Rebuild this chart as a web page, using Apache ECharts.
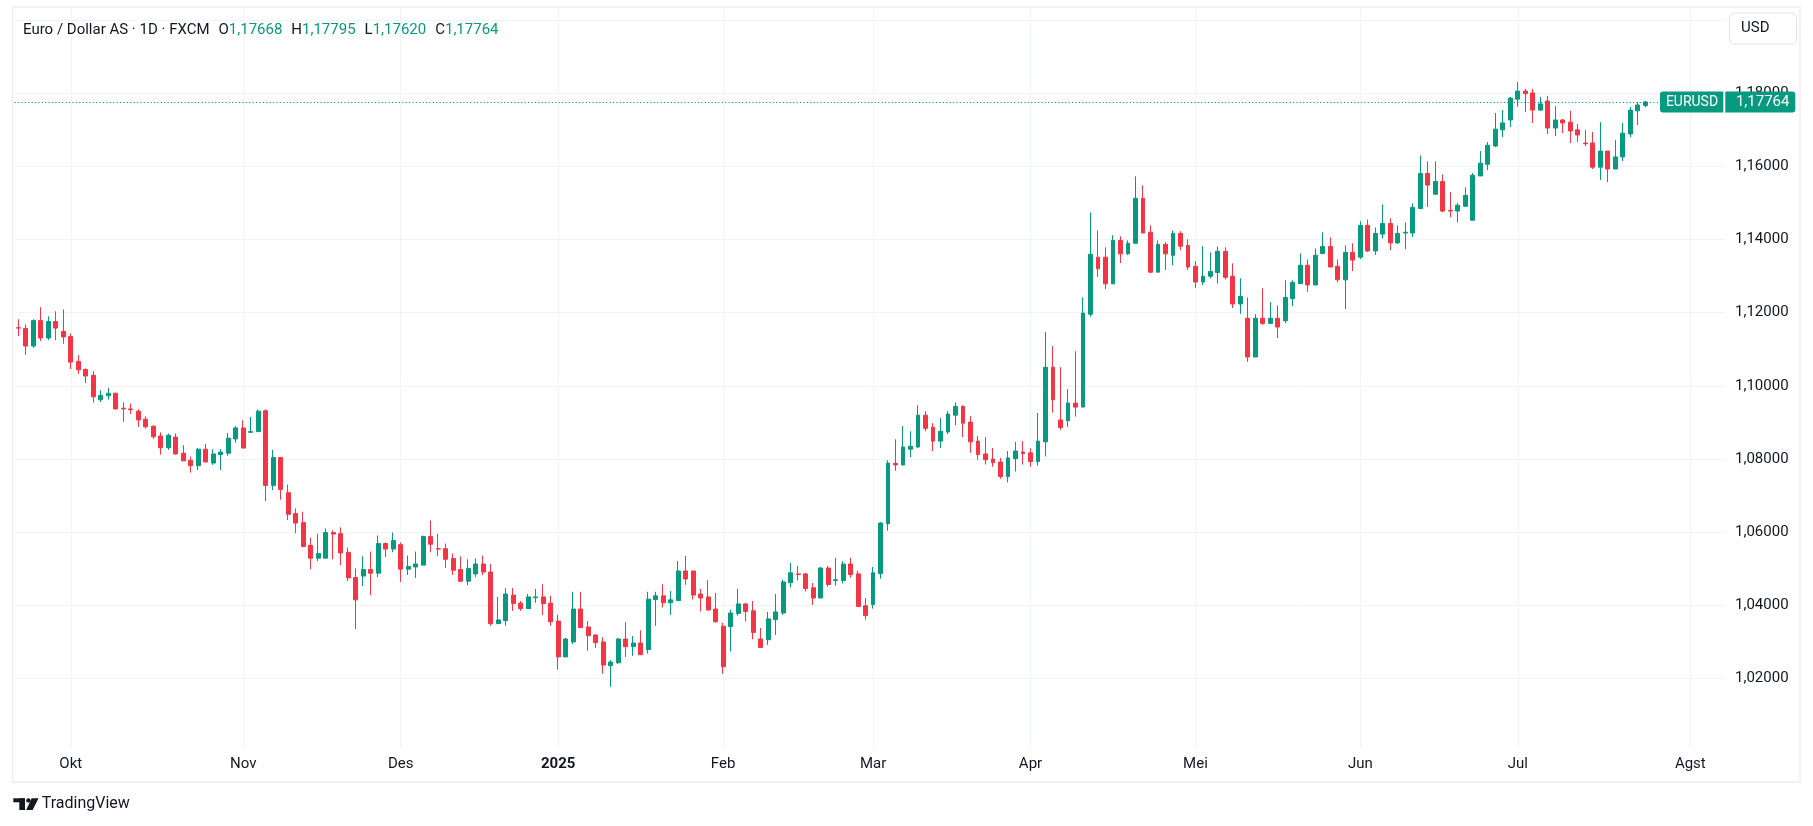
<!DOCTYPE html>
<html>
<head>
<meta charset="utf-8">
<title>EURUSD 1D</title>
<script src="https://cdn.jsdelivr.net/npm/echarts@6/dist/echarts.min.js"></script>
<style>
  html, body { margin: 0; padding: 0; background: #fff; }
  #chart { width: 1813px; height: 826px; }
</style>
</head>
<body>
<div id="chart"></div>
<script>
// daily candles, 20 Sep 2024 .. 24 Jul 2025
const opens = [
  1.1159,1.1157,1.1109,1.1179,1.1131,1.1176,1.1149,1.1135,1.1067,1.1045,
  1.1029,1.0962,1.0973,1.0980,1.0939,1.0937,1.0931,1.0909,1.0890,1.0863,
  1.0831,1.0860,1.0816,1.0797,1.0782,1.0827,1.0789,1.0812,1.0816,1.0855,
  1.0885,1.0873,1.0875,1.0932,1.0728,1.0804,1.0708,1.0651,1.0626,1.0564,
  1.0529,1.0529,1.0599,1.0596,1.0545,1.0476,1.0480,1.0498,1.0488,1.0569,
  1.0554,1.0566,1.0499,1.0505,1.0510,1.0588,1.0555,1.0555,1.0528,1.0498,
  1.0466,1.0486,1.0513,1.0491,1.0350,1.0358,1.0428,1.0406,1.0391,1.0421,
  1.0423,1.0406,1.0357,1.0259,1.0300,1.0390,1.0341,1.0319,1.0300,1.0235,
  1.0243,1.0308,1.0287,1.0297,1.0279,1.0416,1.0426,1.0407,1.0413,1.0494,
  1.0494,1.0431,1.0423,1.0390,1.0343,1.0342,1.0378,1.0404,1.0385,1.0308,
  1.0306,1.0361,1.0379,1.0462,1.0486,1.0486,1.0448,1.0420,1.0502,1.0468,
  1.0468,1.0513,1.0486,1.0399,1.0402,1.0487,1.0623,1.0788,1.0784,1.0827,
  1.0833,1.0920,1.0887,1.0849,1.0874,1.0920,1.0944,1.0901,1.0849,1.0814,
  1.0800,1.0792,1.0752,1.0801,1.0819,1.0817,1.0793,1.0847,1.1051,1.0907,
  1.0905,1.0953,1.0942,1.1196,1.1352,1.1352,1.1279,1.1398,1.1361,1.1390,
  1.1513,1.1420,1.1311,1.1387,1.1357,1.1417,1.1384,1.1327,1.1284,1.1300,
  1.1310,1.1368,1.1300,1.1224,1.1185,1.1079,1.1185,1.1171,1.1185,1.1178,
  1.1239,1.1280,1.1330,1.1276,1.1362,1.1381,1.1327,1.1290,1.1365,1.1352,
  1.1439,1.1369,1.1415,1.1444,1.1391,1.1418,1.1418,1.1485,1.1581,1.1524,
  1.1559,1.1480,1.1478,1.1491,1.1453,1.1574,1.1606,1.1656,1.1700,1.1727,
  1.1784,1.1806,1.1801,1.1754,1.1779,1.1705,1.1727,1.1721,1.1700,1.1664,
  1.1664,1.1598,1.1642,1.1593,1.1626,1.1689,1.1752,1.17668
];
const highs = [
  1.1182,1.1168,1.1182,1.1215,1.1190,1.1204,1.1209,1.1143,1.1084,1.1048,
  1.1040,1.0988,1.0995,1.0981,1.0955,1.0952,1.0936,1.0917,1.0891,1.0873,
  1.0870,1.0870,1.0838,1.0807,1.0830,1.0841,1.0827,1.0827,1.0871,1.0890,
  1.0906,1.0915,1.0936,1.0936,1.0825,1.0806,1.0730,1.0665,1.0656,1.0585,
  1.0596,1.0610,1.0605,1.0613,1.0558,1.0501,1.0534,1.0547,1.0591,1.0572,
  1.0599,1.0572,1.0536,1.0547,1.0591,1.0632,1.0596,1.0569,1.0542,1.0534,
  1.0526,1.0528,1.0536,1.0513,1.0423,1.0447,1.0447,1.0412,1.0431,1.0445,
  1.0458,1.0426,1.0374,1.0311,1.0437,1.0437,1.0357,1.0321,1.0313,1.0250,
  1.0311,1.0354,1.0316,1.0332,1.0437,1.0437,1.0458,1.0439,1.0521,1.0535,
  1.0494,1.0445,1.0469,1.0434,1.0352,1.0388,1.0445,1.0407,1.0412,1.0338,
  1.0382,1.0431,1.0470,1.0516,1.0508,1.0489,1.0461,1.0505,1.0508,1.0530,
  1.0521,1.0530,1.0494,1.0420,1.0505,1.0628,1.0797,1.0854,1.0890,1.0876,
  1.0947,1.0931,1.0898,1.0912,1.0931,1.0955,1.0947,1.0918,1.0863,1.0860,
  1.0830,1.0803,1.0822,1.0847,1.0849,1.0830,1.0926,1.1147,1.1109,1.1051,
  1.0991,1.1095,1.1242,1.1474,1.1425,1.1379,1.1412,1.1409,1.1398,1.1573,
  1.1548,1.1439,1.1398,1.1393,1.1425,1.1423,1.1401,1.1341,1.1382,1.1365,
  1.1381,1.1379,1.1335,1.1294,1.1242,1.1196,1.1267,1.1229,1.1220,1.1289,
  1.1289,1.1362,1.1346,1.1376,1.1420,1.1406,1.1346,1.1384,1.1390,1.1450,
  1.1455,1.1433,1.1496,1.1458,1.1439,1.1447,1.1499,1.1630,1.1614,1.1614,
  1.1578,1.1530,1.1500,1.1543,1.1582,1.1642,1.1667,1.1746,1.1754,1.1790,
  1.1831,1.1812,1.1812,1.1790,1.1793,1.1765,1.1730,1.1752,1.1716,1.1700,
  1.1694,1.1721,1.1642,1.1672,1.1719,1.1763,1.1776,1.17795
];
const lows = [
  1.1136,1.1085,1.1104,1.1123,1.1125,1.1125,1.1115,1.1046,1.1033,1.1008,
  1.0954,1.0956,1.0963,1.0936,1.0902,1.0923,1.0888,1.0883,1.0855,1.0812,
  1.0825,1.0812,1.0795,1.0763,1.0770,1.0792,1.0784,1.0770,1.0809,1.0845,
  1.0830,1.0873,1.0875,1.0685,1.0715,1.0689,1.0633,1.0597,1.0559,1.0499,
  1.0521,1.0529,1.0526,1.0510,1.0466,1.0335,1.0453,1.0428,1.0477,1.0532,
  1.0545,1.0464,1.0483,1.0475,1.0510,1.0545,1.0535,1.0502,1.0483,1.0466,
  1.0455,1.0477,1.0483,1.0344,1.0350,1.0344,1.0385,1.0385,1.0391,1.0407,
  1.0374,1.0344,1.0224,1.0259,1.0294,1.0339,1.0276,1.0284,1.0213,1.0177,
  1.0240,1.0259,1.0262,1.0265,1.0268,1.0344,1.0394,1.0374,1.0413,1.0456,
  1.0416,1.0383,1.0387,1.0353,1.0213,1.0274,1.0372,1.0356,1.0307,1.0285,
  1.0292,1.0319,1.0374,1.0449,1.0468,1.0438,1.0401,1.0420,1.0451,1.0454,
  1.0460,1.0476,1.0397,1.0361,1.0391,1.0473,1.0604,1.0768,1.0782,1.0805,
  1.0830,1.0876,1.0822,1.0830,1.0868,1.0893,1.0860,1.0817,1.0798,1.0785,
  1.0779,1.0746,1.0736,1.0766,1.0785,1.0779,1.0782,1.0807,1.0927,1.0880,
  1.0888,1.0916,1.0942,1.1189,1.1298,1.1265,1.1279,1.1336,1.1358,1.1390,
  1.1418,1.1308,1.1311,1.1317,1.1330,1.1371,1.1317,1.1268,1.1276,1.1294,
  1.1280,1.1291,1.1213,1.1197,1.1066,1.1079,1.1167,1.1169,1.1131,1.1172,
  1.1218,1.1278,1.1257,1.1276,1.1360,1.1325,1.1283,1.1210,1.1314,1.1347,
  1.1366,1.1358,1.1403,1.1371,1.1388,1.1374,1.1407,1.1483,1.1489,1.1524,
  1.1475,1.1461,1.1447,1.1491,1.1453,1.1574,1.1590,1.1653,1.1680,1.1708,
  1.1763,1.1749,1.1719,1.1752,1.1689,1.1683,1.1691,1.1664,1.1667,1.1656,
  1.1593,1.1563,1.1557,1.1593,1.1615,1.1680,1.1713,1.17620
];
const closes = [
  1.1158,1.1109,1.1179,1.1131,1.1176,1.1158,1.1134,1.1065,1.1044,1.1027,
  1.0970,1.0974,1.0980,1.0937,1.0937,1.0935,1.0907,1.0888,1.0861,1.0831,
  1.0865,1.0814,1.0795,1.0782,1.0827,1.0792,1.0814,1.0819,1.0857,1.0885,
  1.0830,1.0875,1.0931,1.0728,1.0804,1.0717,1.0649,1.0625,1.0561,1.0529,
  1.0542,1.0599,1.0595,1.0543,1.0475,1.0415,1.0498,1.0488,1.0569,1.0554,
  1.0577,1.0499,1.0506,1.0513,1.0588,1.0567,1.0554,1.0526,1.0496,1.0466,
  1.0501,1.0513,1.0491,1.0350,1.0360,1.0431,1.0405,1.0391,1.0423,1.0423,
  1.0405,1.0355,1.0259,1.0308,1.0390,1.0339,1.0317,1.0298,1.0237,1.0245,
  1.0308,1.0287,1.0297,1.0265,1.0417,1.0426,1.0407,1.0415,1.0494,1.0472,
  1.0428,1.0420,1.0387,1.0355,1.0232,1.0379,1.0404,1.0383,1.0326,1.0285,
  1.0363,1.0382,1.0464,1.0489,1.0484,1.0446,1.0420,1.0502,1.0457,1.0470,
  1.0513,1.0484,1.0397,1.0372,1.0489,1.0625,1.0789,1.0784,1.0833,1.0835,
  1.0920,1.0884,1.0849,1.0876,1.0923,1.0944,1.0898,1.0847,1.0812,1.0798,
  1.0790,1.0752,1.0803,1.0822,1.0815,1.0793,1.0849,1.1051,1.0962,1.0886,
  1.0953,1.0942,1.1199,1.1360,1.1320,1.1279,1.1398,1.1361,1.1390,1.1513,
  1.1418,1.1311,1.1387,1.1361,1.1417,1.1382,1.1325,1.1284,1.1300,1.1313,
  1.1368,1.1297,1.1224,1.1245,1.1079,1.1185,1.1171,1.1185,1.1161,1.1242,
  1.1283,1.1330,1.1276,1.1357,1.1381,1.1325,1.1290,1.1365,1.1344,1.1439,
  1.1369,1.1417,1.1444,1.1391,1.1417,1.1420,1.1488,1.1581,1.1549,1.1559,
  1.1478,1.1478,1.1494,1.1521,1.1576,1.1609,1.1658,1.1702,1.1719,1.1787,
  1.1806,1.1799,1.1754,1.1771,1.1705,1.1727,1.1719,1.1697,1.1686,1.1662,
  1.1598,1.1642,1.1593,1.1626,1.1691,1.1754,1.1768,1.17764
];

// trading calendar (weekdays, minus market holidays); runs on past the last candle
const firstDay = '2024-09-20';
const lastDay = '2025-08-07';
const holidays = ['2024-12-25', '2025-01-01'];

const monthTicks = ['2024-10-01','2024-11-01','2024-12-02','2025-01-02','2025-02-03',
  '2025-03-03','2025-04-01','2025-05-01','2025-06-02','2025-07-01','2025-08-01'];
const monthNames = ['Okt','Nov','Des','2025','Feb','Mar','Apr','Mei','Jun','Jul','Agst'];

const priceTicks = [1.02,1.04,1.06,1.08,1.10,1.12,1.14,1.16,1.18,1.20];
const priceLabels = [1.02,1.04,1.06,1.08,1.10,1.12,1.14,1.16,1.18];

const symbol = 'EURUSD';
const legendName = 'Euro / Dollar AS · 1D · FXCM';

const UP = '#089981', DOWN = '#f23645', INK = '#131722', GRID = '#f0f3fa';
const FONT = 'Roboto';

const days = [];
for (let d = new Date(firstDay + 'T00:00:00Z'); d <= new Date(lastDay + 'T00:00:00Z'); d.setUTCDate(d.getUTCDate() + 1)) {
  const wd = d.getUTCDay();
  const s = d.toISOString().slice(0, 10);
  if (wd === 0 || wd === 6 || holidays.includes(s)) continue;
  days.push(s);
}

const candles = opens.map((o, i) => [o, closes[i], lows[i], highs[i]]);
const fmt = v => v.toFixed(5).replace('.', ',');
const last = opens.length - 1;
const isMonth = (i, v) => monthTicks.includes(v);

var myChart = echarts.init(document.getElementById('chart'));
var option = {
  animation: false,
  textStyle: { fontFamily: FONT },
  grid: { left: 14.55, right: 88.95, top: 8, bottom: 79 },
  xAxis: {
    type: 'category',
    data: days,
    boundaryGap: true,
    axisLine: { show: false },
    axisTick: { show: false },
    axisLabel: {
      interval: isMonth,
      fontSize: 15,
      color: INK,
      margin: 10,
      formatter: v => {
        const n = monthNames[monthTicks.indexOf(v)];
        return n === '2025' ? '{b|' + n + '}' : n;
      },
      rich: { b: { fontWeight: 'bold', fontSize: 15, color: INK, fontFamily: FONT } }
    },
    splitLine: { show: true, interval: isMonth, alignWithLabel: true, lineStyle: { color: GRID, width: 1 } }
  },
  yAxis: {
    type: 'value',
    position: 'right',
    min: 1.00127,
    max: 1.20332,
    axisLine: { show: false },
    axisTick: { show: false, customValues: priceTicks },
    axisLabel: { customValues: priceLabels, formatter: fmt, fontSize: 15, color: INK, margin: 11 },
    splitLine: { show: true, lineStyle: { color: GRID, width: 1 } }
  },
  series: [{
    type: 'candlestick',
    data: candles,
    barWidth: 4.4,
    itemStyle: { color: UP, color0: DOWN, borderColor: UP, borderColor0: DOWN, borderWidth: 1 },
    markLine: {
      silent: true,
      symbol: 'none',
      precision: 5,
      animation: false,
      label: { show: false },
      emphasis: { disabled: true },
      lineStyle: { color: UP, type: [1.2, 2.2], width: 1 },
      data: [{ yAxis: closes[last] }]
    }
  }]
};
option && myChart.setOption(option);

const yLast = myChart.convertToPixel({ yAxisIndex: 0 }, closes[last]);
const legendText = '{t|' + legendName + '}' +
  '{k|O}{v|' + fmt(opens[last]) + '}' +
  '{k|H}{v|' + fmt(highs[last]) + '}' +
  '{k|L}{v|' + fmt(lows[last]) + '}' +
  '{k|C}{v|' + fmt(closes[last]) + '}';

myChart.setOption({
  graphic: [
    { type: 'rect', silent: true, z: 100,
      shape: { x: 12.5, y: 7, width: 1787.5, height: 775 },
      style: { fill: 'none', stroke: '#eceef3', lineWidth: 1.5 } },
    { type: 'text', silent: true, z: 100, x: 23, y: 30.6,
      style: {
        text: legendText, verticalAlign: 'middle', fontFamily: FONT, fontSize: 15, fill: INK,
        rich: {
          t: { fontFamily: FONT, fontSize: 15, fill: INK },
          k: { fontFamily: FONT, fontSize: 15, fill: INK, padding: [0, 0, 0, 9] },
          v: { fontFamily: FONT, fontSize: 15, fill: UP }
        }
      } },
    { type: 'rect', silent: true, z: 100,
      shape: { x: 1729.5, y: 13, width: 67, height: 31, r: 5 },
      style: { fill: '#fff', stroke: '#e0e3eb', lineWidth: 1 } },
    { type: 'text', silent: true, z: 101, x: 1741, y: 28.6,
      style: { text: 'USD', fontFamily: FONT, fontSize: 15, fill: INK, verticalAlign: 'middle' } },
    { type: 'rect', silent: true, z: 100,
      shape: { x: 1660, y: yLast - 10.5, width: 63.3, height: 21, r: [3, 0, 0, 3] },
      style: { fill: UP } },
    { type: 'text', silent: true, z: 101, x: 1692, y: yLast + 0.3,
      style: { text: symbol, fontFamily: FONT, fontSize: 14, fill: '#fff', align: 'center', verticalAlign: 'middle' } },
    { type: 'rect', silent: true, z: 100,
      shape: { x: 1725.3, y: yLast - 10.5, width: 70, height: 21, r: [0, 3, 3, 0] },
      style: { fill: UP } },
    { type: 'text', silent: true, z: 101, x: 1762.7, y: yLast + 0.3,
      style: { text: fmt(closes[last]), fontFamily: FONT, fontSize: 15, fill: '#fff', align: 'center', verticalAlign: 'middle' } },
    // TradingView mark
    { type: 'rect', silent: true, z: 100, shape: { x: 13.3, y: 798.3, width: 11.7, height: 4 }, style: { fill: INK } },
    { type: 'rect', silent: true, z: 100, shape: { x: 19.3, y: 798.3, width: 5.7, height: 11.7 }, style: { fill: INK } },
    { type: 'circle', silent: true, z: 100, shape: { cx: 28.4, cy: 800.4, r: 2.2 }, style: { fill: INK } },
    { type: 'polygon', silent: true, z: 100,
      shape: { points: [[31.6, 798.3], [38.6, 798.3], [32.6, 810], [26.2, 810]] }, style: { fill: INK } },
    { type: 'text', silent: true, z: 100, x: 41.7, y: 804.3,
      style: { text: 'TradingView', fontFamily: FONT, fontSize: 16, fill: INK, verticalAlign: 'middle' } }
  ]
});
</script>
</body>
</html>
